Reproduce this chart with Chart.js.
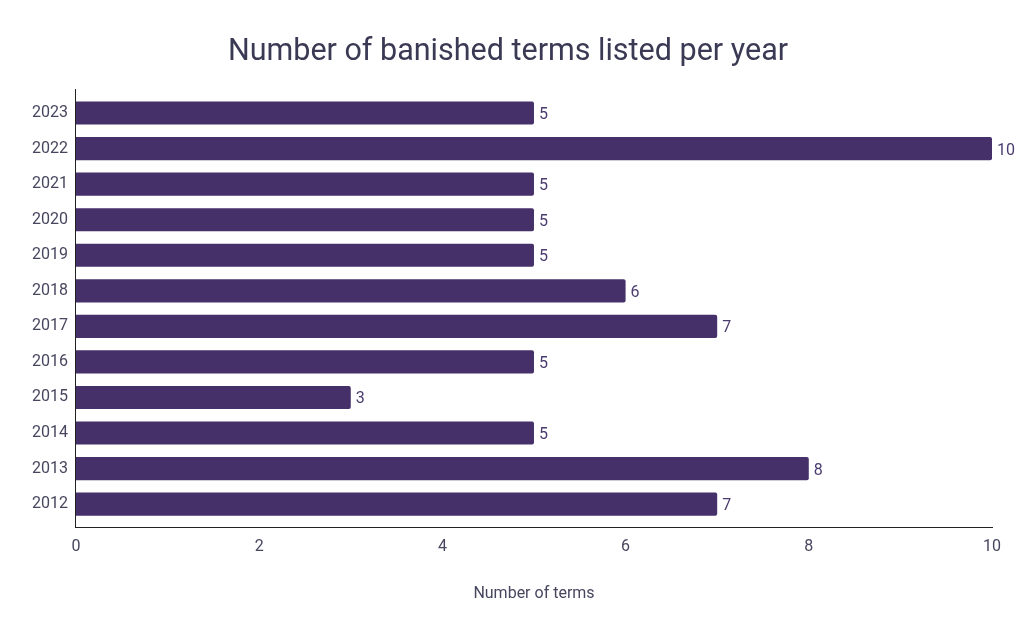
<!DOCTYPE html>
<html>
<head>
<meta charset="utf-8">
<script src="https://cdn.jsdelivr.net/npm/chart.js@4/dist/chart.umd.min.js"></script>
<style>
html,body{margin:0;padding:0;background:#fff;}
#wrap{width:1024px;height:634px;}
</style>
</head>
<body>
<div id="wrap"><canvas id="c" width="1024" height="634"></canvas></div>
<script>
const years = ["2012","2013","2014","2015","2016","2017","2018","2019","2020","2021","2022","2023"];
const termCounts = [7, 8, 5, 3, 5, 7, 6, 5, 5, 5, 10, 5];
const xTicks = [0, 2, 4, 6, 8, 10];

const barColor = "#45306a";
const textColor = "#47465f";

const valueLabels = {
  id: "valueLabels",
  afterDatasetsDraw(chart) {
    const ctx = chart.ctx;
    const meta = chart.getDatasetMeta(0);
    ctx.save();
    ctx.font = "16px Roboto";
    ctx.fillStyle = "#4a3c6e";
    ctx.textAlign = "left";
    ctx.textBaseline = "middle";
    meta.data.forEach((bar, i) => {
      ctx.fillText(String(termCounts[i]), bar.x + 5, bar.y + 2);
    });
    ctx.restore();
  }
};

new Chart(document.getElementById("c"), {
  type: "bar",
  data: {
    datasets: [{
      data: years.map((y, i) => ({ x: termCounts[i], y: i })),
      backgroundColor: barColor,
      borderRadius: 2,
      borderSkipped: "start",
      barPercentage: 0.65,
      categoryPercentage: 1
    }]
  },
  options: {
    indexAxis: "y",
    responsive: false,
    animation: false,
    layout: { padding: { left: 24, right: 32, top: 0, bottom: 26 } },
    plugins: {
      legend: { display: false },
      tooltip: { enabled: false },
      title: {
        display: true,
        text: "Number of banished terms listed per year",
        color: "#3b3a55",
        font: { family: "Roboto", size: 30.5, weight: "normal" },
        padding: { top: 34, bottom: 19 }
      }
    },
    scales: {
      x: {
        type: "linear",
        min: 0,
        max: 10,
        afterBuildTicks: (s) => { s.ticks = xTicks.map(v => ({ value: v })); },
        grid: { display: false, drawTicks: false },
        border: { display: true, color: "#222", width: 1 },
        ticks: {
          color: textColor,
          font: { family: "Roboto", size: 16 },
          padding: 10
        },
        title: {
          display: true,
          text: "Number of terms",
          color: textColor,
          font: { family: "Roboto", size: 16 },
          padding: { top: 18 }
        }
      },
      y: {
        type: "linear",
        offset: false,
        min: -0.66,
        max: years.length - 1 + 0.66,
        afterBuildTicks: (s) => { s.ticks = years.map((y, i) => ({ value: i })); },
        grid: { display: false, drawTicks: false, offset: false },
        border: { display: true, color: "#222", width: 1 },
        ticks: {
          color: textColor,
          font: { family: "Roboto", size: 16 },
          padding: 8,
          callback: (v) => years[v]
        }
      }
    }
  },
  plugins: [valueLabels]
});
</script>
</body>
</html>
